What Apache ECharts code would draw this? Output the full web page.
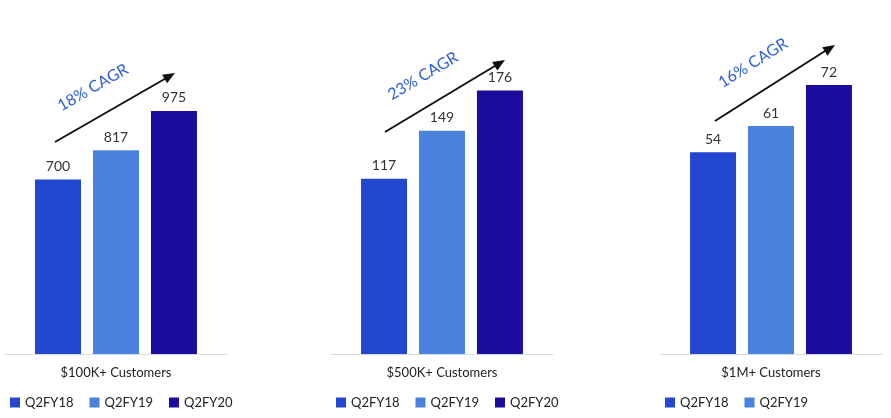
<!DOCTYPE html>
<html><head><meta charset="utf-8">
<script src="https://cdn.jsdelivr.net/npm/echarts@6/dist/echarts.min.js"></script>
<style>html,body{margin:0;background:#fff}#c{width:891px;height:418px}</style>
</head><body><div id="c"></div>
<script>
var periods = ['Q2FY18', 'Q2FY19', 'Q2FY20'];
var panels = ['$100K+ Customers', '$500K+ Customers', '$1M+ Customers'];
var values = [[700, 817, 975], [117, 149, 176], [54, 61, 72]];
var cagr = ['18% CAGR', '23% CAGR', '16% CAGR'];
var colors = ['#2447cf', '#4a83de', '#1c0d9e'];
var maxes = [1340, 223, 89.4];
var lefts = [5, 331, 660];
var arrows = [[55, 142, 175, 73], [385, 132, 505, 60], [715, 121, 835, 45]];

var grids = [], xAxes = [], yAxes = [], series = [], legends = [], graphics = [];
for (var p = 0; p < 3; p++) {
	grids.push({ left: lefts[p], width: 222, top: 20, bottom: 64 });
	xAxes.push({ type: 'category', gridIndex: p, data: [panels[p]],
		axisLine: { lineStyle: { color: '#d5dbe3' } }, axisTick: { show: false },
		axisLabel: { color: '#222', fontSize: 13, margin: 12, fontFamily: 'Lato' } });
	yAxes.push({ type: 'value', gridIndex: p, min: 0, max: maxes[p], show: false, splitLine: { show: false } });
	for (var i = 0; i < 3; i++) {
		series.push({ name: periods[i], type: 'bar', xAxisIndex: p, yAxisIndex: p,
			data: [values[p][i]], barWidth: 46, barGap: '26%',
			itemStyle: { color: colors[i] },
			label: { show: true, position: 'top', color: '#333', fontSize: 14, fontFamily: 'Lato', distance: 6 } });
	}
	legends.push({ data: periods, left: lefts[p], top: 391, icon: 'rect', itemWidth: 10, itemHeight: 10,
		itemGap: 16, selectedMode: false, textStyle: { color: '#222', fontSize: 13, fontFamily: 'Lato' } });
	var a = arrows[p];
	graphics.push({ type: 'line', shape: { x1: a[0], y1: a[1], x2: a[2] - 6, y2: a[3] + 3.5 },
		style: { stroke: '#111', lineWidth: 2 } });
	var ang = Math.atan2(a[3] - a[1], a[2] - a[0]);
	graphics.push({ type: 'polygon', x: a[2], y: a[3], rotation: -ang,
		shape: { points: [[0, 0], [-12, -5], [-12, 5]] }, style: { fill: '#111' } });
	graphics.push({ type: 'text', x: (a[0] + a[2]) / 2 - 22, y: (a[1] + a[3]) / 2 - 20, rotation: -ang,
		style: { text: cagr[p], fill: '#2c5fd9', font: '16px Lato', align: 'center', verticalAlign: 'middle' } });
}
var chart = echarts.init(document.getElementById('c'));
chart.setOption({ animation: false, grid: grids, xAxis: xAxes, yAxis: yAxes, series: series,
	legend: legends, graphic: graphics });
</script></body></html>
